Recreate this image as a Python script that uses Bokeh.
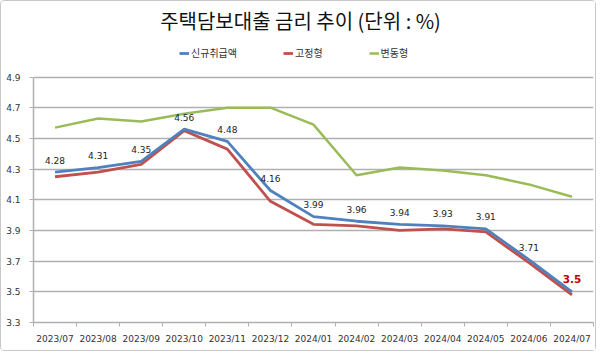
import numpy as np
from bokeh.plotting import figure
from bokeh.models import Label, Legend, LegendItem, FixedTicker, Range1d
from bokeh.core.properties import value
from bokeh.embed import file_html
from bokeh.resources import INLINE

months = ["2023/07", "2023/08", "2023/09", "2023/10", "2023/11", "2023/12",
          "2024/01", "2024/02", "2024/03", "2024/04", "2024/05", "2024/06", "2024/07"]
new_loans = [4.28, 4.31, 4.35, 4.56, 4.48, 4.16, 3.99, 3.96, 3.94, 3.93, 3.91, 3.71, 3.50]
fixed_rate = [4.25, 4.28, 4.33, 4.55, 4.43, 4.09, 3.94, 3.93, 3.90, 3.91, 3.89, 3.69, 3.48]
variable_rate = [4.57, 4.63, 4.61, 4.66, 4.70, 4.70, 4.59, 4.26, 4.31, 4.29, 4.26, 4.20, 4.12]
y_ticks = [3.3, 3.5, 3.7, 3.9, 4.1, 4.3, 4.5, 4.7, 4.9]
series_names = ["신규취급액", "고정형", "변동형"]
title_text = "주택담보대출 금리 추이 (단위 : %)"

n = len(months)
x = list(np.arange(n) + 0.5)

W, H = 596, 351
BORDER_L, BORDER_R, BORDER_B = 32, 4, 30
FRAME_H = H - BORDER_B
PLOT_TOP_PX = 75.5
data_px = FRAME_H - PLOT_TOP_PX
y_top = y_ticks[-1] + (y_ticks[-1] - y_ticks[0]) * PLOT_TOP_PX / data_px

p = figure(width=W, height=H, x_range=Range1d(0, n), y_range=Range1d(y_ticks[0], y_top),
           min_border_left=BORDER_L, min_border_right=BORDER_R, min_border_top=0,
           min_border_bottom=BORDER_B, output_backend="svg", toolbar_location=None,
           title_location=None)
p.styles = {"border": "1px solid #c8c8c8", "border-radius": "4px"}
p.outline_line_color = None
p.background_fill_color = "white"
p.border_fill_color = "white"

grid_col = "#b0b0b0"
xa = p.xaxis[0]
xa.ticker = FixedTicker(ticks=x, minor_ticks=list(range(n + 1)))
xa.major_label_overrides = {float(xi): m for xi, m in zip(x, months)}
xa.major_tick_line_color = None
xa.major_tick_out = 0
xa.major_tick_in = 0
xa.minor_tick_line_color = grid_col
xa.minor_tick_out = 4
xa.minor_tick_in = 0
xa.axis_line_color = grid_col
xa.axis_line_width = 1.5
xa.major_label_text_font = "DejaVu Sans"
xa.major_label_text_font_size = "9px"
xa.major_label_text_color = "#333333"
xa.major_label_standoff = 7
xa.axis_label_standoff = 0
p.xgrid.grid_line_color = None

ya = p.yaxis[0]
ya.ticker = FixedTicker(ticks=y_ticks)
ya.bounds = (y_ticks[0], y_ticks[-1])
ya.major_label_overrides = {v: f"{v:.1f}" for v in y_ticks}
ya.major_tick_line_color = grid_col
ya.major_tick_out = 4
ya.major_tick_in = 0
ya.minor_tick_line_color = None
ya.axis_line_color = grid_col
ya.axis_line_width = 1.5
ya.major_label_text_font = "DejaVu Sans"
ya.major_label_text_font_size = "9px"
ya.major_label_text_color = "#333333"
ya.major_label_standoff = 9
ya.axis_label_standoff = 0
p.ygrid.ticker = FixedTicker(ticks=y_ticks)
p.ygrid.grid_line_color = grid_col
p.ygrid.grid_line_width = 1.5

r_var = p.line(x, variable_rate, line_color="#9BBB59", line_width=2.5)
r_fix = p.line(x, fixed_rate, line_color="#C0504D", line_width=2.8)
r_new = p.line(x, new_loans, line_color="#4F81BD", line_width=2.8)

labels = [f"{v:g}" for v in new_loans]
p.text(x=x[:-1], y=new_loans[:-1], text=labels[:-1], y_offset=-12,
       text_align="center", text_baseline="middle",
       text_font=value("DejaVu Sans"), text_font_size="9px", text_color="#222222")
p.text(x=x[-1:], y=new_loans[-1:], text=labels[-1:], y_offset=-13,
       text_align="center", text_baseline="middle",
       text_font=value("DejaVu Sans"), text_font_size="10.5px", text_font_style="bold",
       text_color="#C00000")

legend = Legend(items=[LegendItem(label=series_names[0], renderers=[r_new]),
                       LegendItem(label=series_names[1], renderers=[r_fix]),
                       LegendItem(label=series_names[2], renderers=[r_var])],
                orientation="horizontal", location=(146, FRAME_H - 59),
                padding=0, margin=0, spacing=46, glyph_width=10, glyph_height=12,
                label_height=12, label_standoff=2,
                label_text_font="Noto Sans CJK KR", label_text_font_size="10px",
                label_text_color="#333333", border_line_color=None,
                background_fill_alpha=0)
p.add_layout(legend)

p.add_layout(Label(x=267, y=FRAME_H - 19, x_units="screen", y_units="screen",
                   text=title_text, text_align="center", text_baseline="middle",
                   text_font="Noto Sans CJK KR", text_font_size="20px",
                   text_font_style="normal", text_color="#111111"))

open("out.html", "w").write(file_html(p, INLINE))
